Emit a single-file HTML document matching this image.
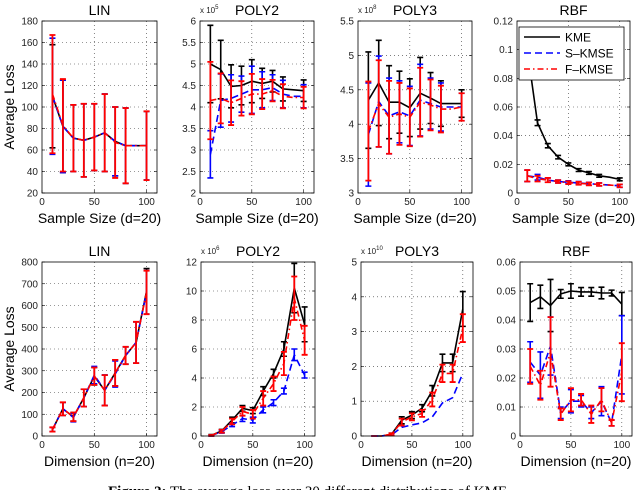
<!DOCTYPE html>
<html><head><meta charset="utf-8"><style>
body{margin:0;background:#fff;width:640px;height:490px;overflow:hidden;position:relative}
svg{position:absolute;left:0;top:0}
text{font-family:"Liberation Sans",sans-serif}
</style></head><body>
<svg id="fig" width="640" height="490" viewBox="0 0 640 490"></svg>
<script>
const xCats=[10,20,30,40,50,60,70,80,90,100];
// top row
const p1K=[110,82,71,69,72,76,68,64,64,64], p1Ke=[48,43,31,34,31,36,32,35,0,32];
const p1S=[110,82,71,69,72,76,68,64,64,64], p1Se=[54,43,31,34,31,36,32,35,0,32];
const p1F=[112,83,71,69,72,76,67,64,64,64], p1Fe=[55,43,31,34,31,36,33,35,0,32];
const p2K=[5.0,4.87,4.48,4.5,4.6,4.55,4.6,4.42,4.4,4.38], p2Ke=[0.9,0.68,0.5,0.45,0.5,0.35,0.25,0.28,0,0.25];
const p2S=[2.9,4.15,4.2,4.3,4.4,4.4,4.45,4.3,4.25,4.25], p2Se=[0.55,0.62,0.55,0.42,0.55,0.42,0.3,0.32,0,0.27];
const p2F=[4.15,4.2,4.1,4.2,4.3,4.3,4.38,4.25,4.22,4.22], p2Fe=[0.9,0.58,0.52,0.4,0.47,0.35,0.25,0.28,0,0.25];
const p3K=[4.35,4.6,4.32,4.32,4.24,4.45,4.38,4.3,4.3,4.3], p3Ke=[0.7,0.62,0.53,0.45,0.42,0.52,0.37,0.33,0,0.2];
const p3S=[3.85,4.33,4.12,4.18,4.12,4.35,4.3,4.25,4.25,4.25], p3Se=[0.75,0.66,0.55,0.45,0.43,0.52,0.37,0.35,0,0.2];
const p3F=[3.9,4.3,4.1,4.15,4.1,4.32,4.28,4.22,4.22,4.25], p3Fe=[0.72,0.63,0.53,0.45,0.42,0.5,0.37,0.34,0,0.2];
const p4K=[0.1,0.049,0.033,0.025,0.02,0.016,0.014,0.012,0.011,0.0095], p4Ke=[0.002,0.002,0.0015,0.0012,0.001,0.001,0.001,0.001,0,0.001];
const p4S=[0.012,0.011,0.009,0.008,0.0075,0.007,0.0065,0.006,0.0055,0.005], p4Se=[0.004,0.002,0.0015,0.001,0.001,0.001,0.001,0.001,0,0.001];
const p4F=[0.012,0.01,0.009,0.008,0.0072,0.0068,0.0063,0.006,0.0055,0.005], p4Fe=[0.004,0.002,0.0015,0.001,0.001,0.001,0.001,0.001,0,0.001];
// bottom row
const q1K=[30,125,88,175,275,210,290,370,430,665], q1Ke=[10,30,20,40,40,70,60,40,95,105];
const q1S=[30,125,85,175,280,210,285,370,430,660], q1Se=[10,30,20,40,40,70,60,40,95,100];
const q1F=[30,125,88,175,275,210,290,370,430,660], q1Fe=[10,30,20,40,40,70,60,40,95,100];
const q2K=[0.05,0.35,1.1,1.9,1.75,3.1,4.3,6.0,10.2,7.7], q2Ke=[0.05,0.1,0.2,0.2,0.2,0.3,0.3,0.5,1.7,1.2];
const q2S=[0.03,0.3,0.75,1.2,1.1,1.8,2.3,3.1,5.6,4.2], q2Se=[0.03,0.1,0.1,0.2,0.2,0.2,0.2,0.2,0.4,0.2];
const q2F=[0.04,0.33,1.0,1.7,1.5,2.6,3.6,5.0,9.5,6.6], q2Fe=[0.03,0.1,0.2,0.3,0.3,0.5,0.5,0.8,1.5,1.0];
const q3K=[0,0,0.05,0.45,0.6,0.8,1.3,2.1,2.1,3.65], q3Ke=[0,0,0.03,0.1,0.1,0.1,0.15,0.25,0.25,0.5];
const q3S=[0,0,0.03,0.25,0.32,0.38,0.55,0.95,1.1,1.8], q3Se=[0,0,0,0,0,0,0,0,0,0];
const q3F=[0,0,0.05,0.4,0.55,0.65,1.05,1.8,1.8,3.1], q3Fe=[0,0,0.03,0.1,0.1,0.1,0.2,0.25,0.25,0.4];
const q4K=[0.046,0.048,0.045,0.049,0.05,0.0497,0.0497,0.0493,0.0493,0.0455], q4Ke=[0.0065,0.004,0.009,0.0015,0.0025,0.0015,0.0015,0.002,0.001,0.004];
const q4S=[0.0255,0.021,0.031,0.008,0.012,0.012,0.008,0.012,0.0045,0.028], q4Se=[0.007,0.008,0.01,0.002,0.004,0.002,0.002,0.005,0.001,0.0135];
const q4F=[0.024,0.0175,0.029,0.0075,0.0125,0.0125,0.0075,0.0125,0.0045,0.022], q4Fe=[0.006,0.005,0.012,0.002,0.004,0.002,0.003,0.004,0.001,0.01];
const xTicks=[0,50,100];
const tY1=[20,40,60,80,100,120,140,160,180], tY2=['2','2.5','3','3.5','4','4.5','5','5.5','6'], tY3=['3','3.5','4','4.5','5','5.5'], tY4=['0','0.02','0.04','0.06','0.08','0.1','0.12'];
const tB1=[0,100,200,300,400,500,600,700,800], tB2=[0,2,4,6,8,10,12], tB3=[0,1,2,3,4,5], tB4=['0','0.01','0.02','0.03','0.04','0.05','0.06'];

const svg=document.getElementById('fig');const NS='http://www.w3.org/2000/svg';
function mk(tag,attrs,parent,txt){const e=document.createElementNS(NS,tag);for(const k in attrs)e.setAttribute(k,attrs[k]);if(txt!==undefined)e.textContent=txt;(parent||svg).appendChild(e);return e;}
const panels=[
 {x0:42,x1:157,y0:21,y1:193,ymin:20,ymax:180,ticks:tY1,title:'LIN',xl:'Sample Size (d=20)',yl:true,S:[[p1K,p1Ke],[p1S,p1Se],[p1F,p1Fe]],name:'top-lin'},
 {x0:200,x1:314,y0:21,y1:193,ymin:2,ymax:6,ticks:tY2,title:'POLY2',mult:'5',xl:'Sample Size (d=20)',S:[[p2K,p2Ke],[p2S,p2Se],[p2F,p2Fe]],name:'top-poly2'},
 {x0:358,x1:472,y0:21,y1:193,ymin:3,ymax:5.5,ticks:tY3,title:'POLY3',mult:'8',xl:'Sample Size (d=20)',S:[[p3K,p3Ke],[p3S,p3Se],[p3F,p3Fe]],name:'top-poly3'},
 {x0:517,x1:630,y0:21,y1:193,ymin:0,ymax:0.12,ticks:tY4,title:'RBF',xl:'Sample Size (d=20)',legend:true,S:[[p4K,p4Ke],[p4S,p4Se],[p4F,p4Fe]],name:'top-rbf'},
 {x0:42,x1:157,y0:262,y1:436,ymin:0,ymax:800,ticks:tB1,title:'LIN',xl:'Dimension (n=20)',yl:true,S:[[q1K,q1Ke],[q1S,q1Se],[q1F,q1Fe]],name:'bottom-lin'},
 {x0:201,x1:315,y0:262,y1:436,ymin:0,ymax:12,ticks:tB2,title:'POLY2',mult:'6',xl:'Dimension (n=20)',S:[[q2K,q2Ke],[q2S,q2Se],[q2F,q2Fe]],name:'bottom-poly2'},
 {x0:361,x1:473,y0:262,y1:436,ymin:0,ymax:5,ticks:tB3,title:'POLY3',mult:'10',xl:'Dimension (n=20)',S:[[q3K,q3Ke],[q3S,q3Se],[q3F,q3Fe]],name:'bottom-poly3'},
 {x0:520,x1:632,y0:262,y1:436,ymin:0,ymax:0.06,ticks:tB4,title:'RBF',xl:'Dimension (n=20)',S:[[q4K,q4Ke],[q4S,q4Se],[q4F,q4Fe]],name:'bottom-rbf'}
];
const colors=['#000','#0000ff','#ff0000'];const dashes=['none','7,4','6,3,1.5,3'];const snames=['kme','s-kmse','f-kmse'];
panels.forEach(p=>{
 const g=mk('g',{});
 
 
 const X=v=>p.x0+(v/110)*(p.x1-p.x0);
 const Y=v=>p.y1-(v-p.ymin)/(p.ymax-p.ymin)*(p.y1-p.y0);
 mk('rect',{x:p.x0,y:p.y0,width:p.x1-p.x0,height:p.y1-p.y0,fill:'#fff'},g);
 p.ticks.forEach(t=>{const y=Y(parseFloat(t));
  if(y>p.y0+0.5&&y<p.y1-0.5)mk('line',{x1:p.x0,x2:p.x1,y1:y,y2:y,stroke:'#333','stroke-width':0.6,'stroke-dasharray':'1,3'},g);
  mk('line',{x1:p.x0,x2:p.x0+3,y1:y,y2:y,stroke:'#000','stroke-width':0.6},g);
  mk('line',{x1:p.x1,x2:p.x1-3,y1:y,y2:y,stroke:'#000','stroke-width':0.6},g);
  const tl=mk('text',{x:p.x0-4,y:y+3.5,'font-size':10,'text-anchor':'end',fill:'#222'},g,String(t));
  
  
 });
 xTicks.forEach(t=>{const x=X(t);
  if(t>0)mk('line',{x1:x,x2:x,y1:p.y0,y2:p.y1,stroke:'#333','stroke-width':0.6,'stroke-dasharray':'1,3'},g);
  mk('line',{x1:x,x2:x,y1:p.y1,y2:p.y1-3,stroke:'#000','stroke-width':0.6},g);
  const tl=mk('text',{x:x,y:p.y1+12,'font-size':10,'text-anchor':'middle',fill:'#222'},g,String(t));
  
  
 });
 p.S.forEach((s,si)=>{
  const [m,e]=s;
  const pts=xCats.map((c,i)=>X(c).toFixed(1)+','+Y(m[i]).toFixed(1)).join(' ');
  const pl=mk('polyline',{points:pts,fill:'none',stroke:colors[si],'stroke-width':1.6,'stroke-dasharray':dashes[si]},g);
  
  
  xCats.forEach((c,i)=>{if(!e[i])return;const x=X(c),a=Y(m[i]-e[i]),b=Y(m[i]+e[i]);
   const eb=mk('path',{d:`M${x},${a}V${b}M${x-3},${a}H${x+3}M${x-3},${b}H${x+3}`,stroke:colors[si],'stroke-width':si==2?1.8:1.6,fill:'none'},g);
   
   
  });
 });
 mk('rect',{x:p.x0,y:p.y0,width:p.x1-p.x0,height:p.y1-p.y0,fill:'none',stroke:'#000','stroke-width':0.8},g);
 const ti=mk('text',{x:(p.x0+p.x1)/2,y:p.y0-6,'font-size':14,'text-anchor':'middle'},g,p.title);
 
 
 const xl=mk('text',{x:(p.x0+p.x1)/2,y:p.y1+30,'font-size':14,'text-anchor':'middle'},g,p.xl);
 
 
 if(p.yl){const yl=mk('text',{x:0,y:0,'font-size':14,'text-anchor':'middle',transform:`translate(14,${(p.y0+p.y1)/2}) rotate(-90)`},g,'Average Loss');
  
  }
 if(p.mult){const mt=mk('text',{x:p.x0,y:p.y0-8,'font-size':8,fill:'#222'},g);
  
  
  mk('tspan',{},mt,'x 10');mk('tspan',{dy:-4,'font-size':6},mt,p.mult);}
 if(p.legend){const lg=mk('g',{},g);
  
  
  mk('rect',{x:519,y:27,width:105,height:53,fill:'#fff',stroke:'#000','stroke-width':0.8},lg);
  ['KME','S\u2013KMSE','F\u2013KMSE'].forEach((n,i)=>{const y=37+i*16;
   mk('line',{x1:524,x2:560,y1:y,y2:y,stroke:colors[i],'stroke-width':1.6,'stroke-dasharray':dashes[i]},lg);
   const t=mk('text',{x:565,y:y+4.5,'font-size':12},lg,n);
   
   
  });}
});
const cap=mk('text',{x:108,y:496,'font-size':15,style:'font-family:"Liberation Serif",serif'});


mk('tspan',{'font-weight':'bold'},cap,'Figure 2:');
mk('tspan',{},cap,'  The average loss over 30 different distributions of KME');
</script>
</body></html>
